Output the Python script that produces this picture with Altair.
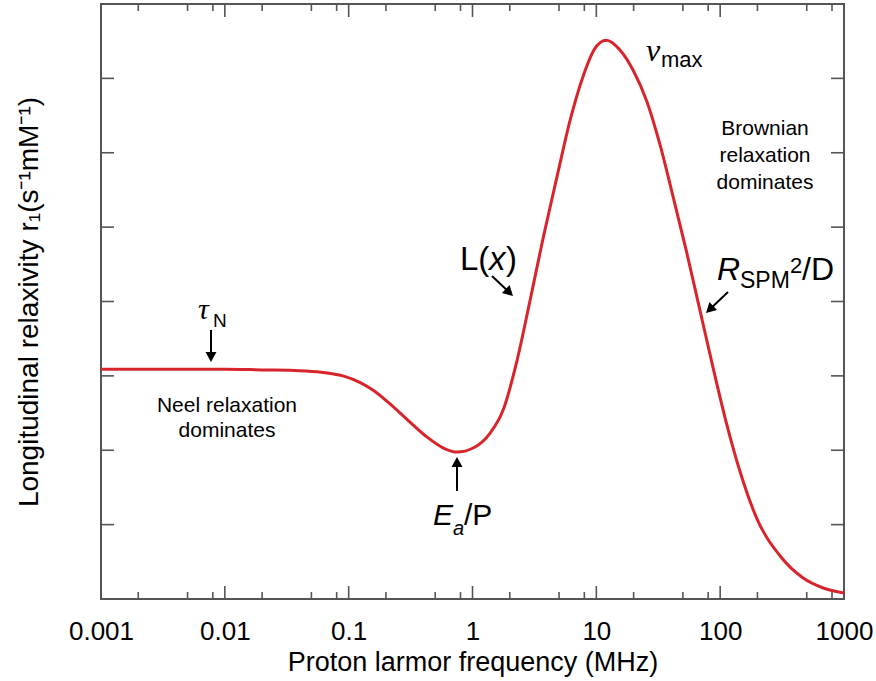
import math
import altair as alt
import pandas as pd

# ---- data ----
freq = [0.001, 0.004, 0.01, 0.02, 0.04, 0.06, 0.09, 0.124, 0.16, 0.21,
        0.294, 0.428, 0.582, 0.751, 1.011, 1.388, 1.767, 2.293, 2.92, 3.718,
        4.824, 6.143, 7.824, 9.779, 12.0, 15.57, 19.83, 25.72, 32.75, 41.73,
        53.14, 68.9, 87.8, 111.8, 145.1, 195.4, 305.2, 468.2, 679.2, 1000]
r1 = [3.09, 3.09, 3.09, 3.08, 3.07, 3.05, 3.0, 2.91, 2.80, 2.64,
      2.42, 2.18, 2.03, 1.976, 2.03, 2.231, 2.54, 3.212, 4.019, 4.852,
      5.685, 6.438, 7.03, 7.406, 7.513, 7.379, 7.11, 6.68, 6.102, 5.405,
      4.691, 3.871, 3.105, 2.379, 1.707, 1.102, 0.578, 0.282, 0.148, 0.081]

x_labels = [0.001, 0.01, 0.1, 1, 10, 100, 1000]
x_major_ticks = [0.01, 0.1, 1, 10, 100]
x_minor_ticks = [0.002, 0.005, 0.008, 0.02, 0.05, 0.08, 0.2, 0.5, 0.8,
                 2, 5, 8, 20, 50, 80, 200, 500, 800]
y_ticks = [1, 2, 3, 4, 5, 6, 7]

# ---- layout ----
X0, Y0 = 101, 4
W, H = 743, 595
FRAME = "#555555"
RED = "#d8252c"
SANS = "Liberation Sans"
SERIF = "Liberation Serif"

xscale = alt.Scale(type="log", domain=[0.001, 1000], nice=False)
yscale = alt.Scale(domain=[0, 8], nice=False, zero=False)

xaxis = alt.Axis(
    values=x_labels, format="~g", ticks=False, tickSize=0, domain=False, grid=False,
    labelFont=SANS, labelFontSize=26, labelColor="black", labelPadding=19,
    labelFlush=False, labelOverlap=False,
    title="Proton larmor frequency (MHz)", titleFont=SANS, titleFontSize=27,
    titleFontWeight="normal", titleColor="black", titlePadding=5)
yaxis = alt.Axis(
    labels=False, ticks=False, tickSize=0, domain=False, grid=False,
    title="Longitudinal relaxivity r₁(s⁻¹mM⁻¹)", titleFont=SANS, titleFontSize=28,
    titleFontWeight="normal", titleColor="black", titlePadding=58)

df = pd.DataFrame({"f": freq, "r": r1})
line = alt.Chart(df).mark_line(
    color=RED, strokeWidth=3, interpolate="monotone", clip=True
).encode(
    x=alt.X("f:Q", scale=xscale, axis=xaxis),
    y=alt.Y("r:Q", scale=yscale, axis=yaxis),
)

xmaj = pd.DataFrame({"f": x_major_ticks})
xmin = pd.DataFrame({"f": x_minor_ticks})
yt = pd.DataFrame({"r": y_ticks})


def xtick(d, y_a, y_b):
    return alt.Chart(d).mark_rule(color=FRAME, strokeWidth=1.6).encode(
        x=alt.X("f:Q", scale=xscale, axis=xaxis),
        y=alt.value(y_a), y2=alt.value(y_b))


def ytick(d, x_a, x_b):
    return alt.Chart(d).mark_rule(color=FRAME, strokeWidth=1.6).encode(
        y=alt.Y("r:Q", scale=yscale, axis=yaxis),
        x=alt.value(x_a), x2=alt.value(x_b))


ticks = [
    xtick(xmaj, H, H - 13), xtick(xmaj, 0, 13),
    xtick(xmin, H, H - 7), xtick(xmin, 0, 7),
    ytick(yt, 0, 13), ytick(yt, W, W - 13),
]

one = pd.DataFrame({"k": [0]})


def txt(s, px, py, size, font=SANS, style="normal", align="left"):
    return alt.Chart(one).mark_text(
        text=s, font=font, fontSize=size, fontStyle=style, align=align,
        baseline="alphabetic", color="black"
    ).encode(x=alt.value(px - X0), y=alt.value(py - Y0))


def arrow(xa, ya, xb, yb):
    dx, dy = xb - xa, yb - ya
    n = math.hypot(dx, dy)
    ux, uy = dx / n, dy / n
    hx, hy = xb - 5 * ux, yb - 5 * uy
    sx, sy = xb - 9 * ux, yb - 9 * uy
    ang = math.degrees(math.atan2(-ux, uy)) % 360
    shaft = alt.Chart(one).mark_rule(color="black", strokeWidth=2).encode(
        x=alt.value(xa - X0), y=alt.value(ya - Y0),
        x2=alt.value(sx - X0), y2=alt.value(sy - Y0))
    head = alt.Chart(one).mark_point(
        shape="M-1.1,-1L1.1,-1L0,1Z", size=100, filled=True, color="black",
        opacity=1, angle=ang, strokeWidth=0
    ).encode(x=alt.value(hx - X0), y=alt.value(hy - Y0))
    return [shaft, head]


notes = [
    # tau_N
    txt("τ", 198, 319, 30, font=SERIF, style="italic"),
    txt("N", 213, 327, 19),
    # Neel relaxation dominates
    txt("Neel relaxation", 227, 412, 21, align="center"),
    txt("dominates", 227, 437, 21, align="center"),
    # Ea/P
    txt("E", 433, 525, 30, style="italic"),
    txt("a", 453, 535, 20, style="italic"),
    txt("/P", 464, 525, 30),
    # L(x)
    txt("L(", 460, 270, 33),
    txt("x", 489, 270, 33, style="italic"),
    txt(")", 506, 270, 33),
    # nu_max
    txt("ν", 646, 61, 32, font=SERIF, style="italic"),
    txt("max", 661, 67, 22),
    # Brownian relaxation dominates
    txt("Brownian", 765, 135, 21, align="center"),
    txt("relaxation", 765, 162, 21, align="center"),
    txt("dominates", 765, 189, 21, align="center"),
    # R_SPM^2/D
    txt("R", 717, 280, 32, style="italic"),
    txt("SPM", 740, 288, 23),
    txt("2", 790, 273, 22),
    txt("/D", 802, 280, 32),
]
notes += arrow(211, 330, 211, 362)
notes += arrow(457, 491, 457, 457)
notes += arrow(492, 276, 513, 296)
notes += arrow(728, 292, 706, 313)

chart = alt.layer(line, *ticks, *notes).properties(
    width=W, height=H,
    padding={"left": X0, "top": Y0, "right": 876 - X0 - W, "bottom": 681 - Y0 - H},
    autosize=alt.AutoSizeParams(type="none"),
).configure_view(stroke=FRAME, strokeWidth=2)

chart.save("out.html", embed_options={"renderer": "svg", "actions": False})
